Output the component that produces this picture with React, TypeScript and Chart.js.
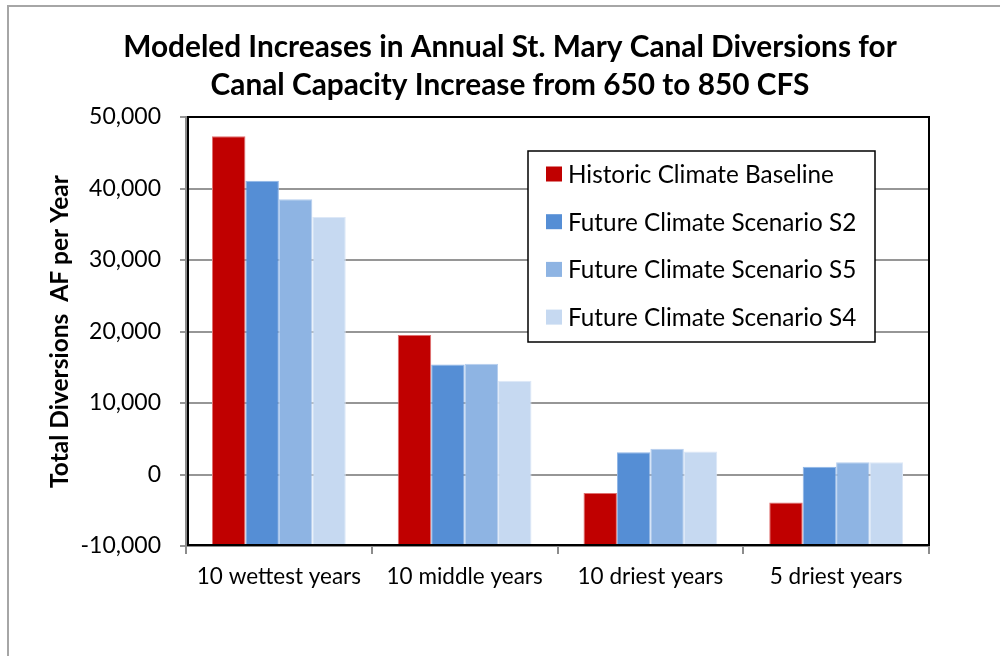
import React, { useEffect, useRef } from 'react';
import { Chart, registerables } from 'chart.js';

Chart.register(...registerables);

const TITLE_LINES = [
  'Modeled Increases in Annual St. Mary Canal Diversions for',
  'Canal Capacity Increase from 650 to 850 CFS',
];
const CATEGORIES = ['10 wettest years', '10 middle years', '10 driest years', '5 driest years'];
const SERIES_LABELS = [
  'Historic Climate Baseline',
  'Future Climate Scenario S2',
  'Future Climate Scenario S5',
  'Future Climate Scenario S4',
];
const HISTORIC = [47300, 19500, -2600, -3900];
const S2 = [41100, 15400, 3100, 1100];
const S5 = [38500, 15500, 3600, 1700];
const S4 = [36000, 13100, 3200, 1700];
const SERIES_VALUES = [HISTORIC, S2, S5, S4];
const COLORS = ['#C00000', '#558ED5', '#8EB4E3', '#C6D9F1'];
const EDGE_COLORS = ['#E07070', '#8FB5E6', '#B5CEEE', '#DDE8F7'];
const Y_MIN = -10000;
const Y_MAX = 50000;
const Y_STEP = 10000;
const Y_TITLE = 'Total Diversions  AF per Year';

const FONT = 'Lato, "Open Sans", sans-serif';

const decorPlugin = {
  id: 'decor',
  beforeDraw(chart: any) {
    const { ctx, width, height } = chart;
    ctx.save();
    ctx.fillStyle = '#ffffff';
    ctx.fillRect(0, 0, width, height);
    // outer frame
    ctx.strokeStyle = '#a6a6a6';
    ctx.lineWidth = 2;
    ctx.beginPath();
    ctx.moveTo(8, height + 2);
    ctx.lineTo(8, 6);
    ctx.lineTo(width + 2, 6);
    ctx.stroke();
    // title
    ctx.fillStyle = '#000000';
    ctx.font = `bold 29.8px ${FONT}`;
    ctx.textAlign = 'center';
    ctx.textBaseline = 'middle';
    TITLE_LINES.forEach((line, i) => {
      ctx.fillText(line, 510, 47 + i * 38);
    });
    ctx.restore();
  },
  afterDraw(chart: any) {
    const { ctx, chartArea } = chart;
    const { left, top, right, bottom } = chartArea;
    ctx.save();
    // plot border (black, inside)
    ctx.strokeStyle = '#000000';
    ctx.lineWidth = 2;
    ctx.strokeRect(left + 2, top, right - left - 2, bottom - top - 1);
    // legend
    const bx = 528;
    const by = 151;
    const bw = 347;
    const bh = 191;
    ctx.fillStyle = '#ffffff';
    ctx.fillRect(bx, by, bw, bh);
    ctx.lineWidth = 1.5;
    ctx.strokeStyle = '#000000';
    ctx.strokeRect(bx, by, bw, bh);
    ctx.font = `24.3px ${FONT}`;
    ctx.textAlign = 'left';
    ctx.textBaseline = 'middle';
    chart.data.datasets.forEach((ds: any, i: number) => {
      const cy = by + 23 + i * 47.7;
      ctx.fillStyle = ds.backgroundColor;
      ctx.fillRect(bx + 18, cy - 7.5, 16, 15);
      ctx.fillStyle = '#000000';
      ctx.fillText(ds.label, bx + 40, cy + 1);
    });
    ctx.restore();
  },
};

export default function App() {
  const ref = useRef<HTMLCanvasElement | null>(null);
  useEffect(() => {
    if (!ref.current) return;
    const chart = new Chart(ref.current, {
      type: 'bar',
      data: {
        labels: CATEGORIES,
        datasets: SERIES_VALUES.map((vals, i) => ({
          label: SERIES_LABELS[i],
          data: vals,
          backgroundColor: COLORS[i],
          borderColor: EDGE_COLORS[i],
          borderWidth: 1,
          base: Y_MIN,
          categoryPercentage: 0.72,
          barPercentage: 1.0,
        })),
      },
      options: {
        responsive: false,
        animation: false,
        devicePixelRatio: 1,
        layout: { padding: { top: 117, right: 71, bottom: 0, left: 0 } },
        plugins: {
          legend: { display: false },
          title: { display: false },
          tooltip: { enabled: false },
        },
        scales: {
          x: {
            offset: true,
            grid: {
              offset: true,
              drawOnChartArea: false,
              drawTicks: true,
              tickLength: 8,
              color: '#8c8c8c',
              lineWidth: 2,
            },
            border: { display: true, color: '#8c8c8c', width: 2 },
            ticks: {
              color: '#000000',
              padding: 9,
              font: { family: FONT, size: 22.5 },
              maxRotation: 0,
              autoSkip: false,
            },
            afterFit: (scale: any) => {
              scale.height = 110;
            },
          },
          y: {
            min: Y_MIN,
            max: Y_MAX,
            grid: {
              color: '#969696',
              lineWidth: 2,
              drawTicks: true,
              tickLength: 6,
            },
            border: { display: true, color: '#8c8c8c', width: 2 },
            ticks: {
              stepSize: Y_STEP,
              color: '#000000',
              padding: 19,
              font: { family: FONT, size: 23 },
              callback: (v: any) => Number(v).toLocaleString('en-US'),
            },
            title: {
              display: true,
              text: Y_TITLE,
              color: '#000000',
              font: { family: FONT, size: 24.5, weight: 'bold' },
              padding: { top: 45, bottom: 0 },
            },
            afterFit: (scale: any) => {
              scale.width = 186;
            },
          },
        },
      },
      plugins: [decorPlugin],
    });
    return () => chart.destroy();
  }, []);
  return (
    <div style={{ position: 'fixed', left: 0, top: 0, width: 1000, height: 656 }}>
      <canvas ref={ref} width={1000} height={656} style={{ display: 'block' }} />
    </div>
  );
}
